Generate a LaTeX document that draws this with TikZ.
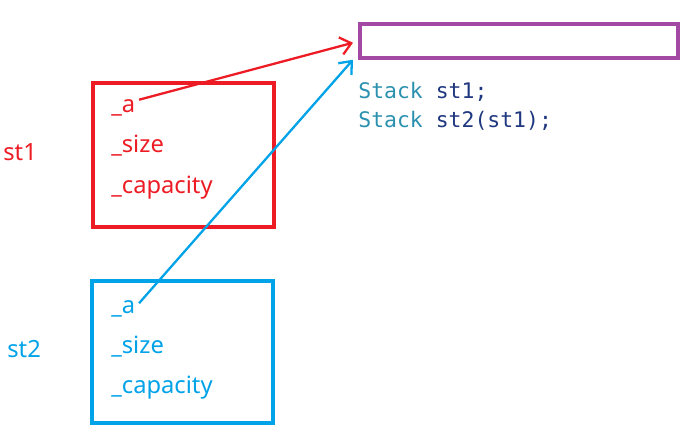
\documentclass[tikz,border=0pt]{standalone}
\usepackage{fontspec}
\setmainfont{Noto Sans}
\setmonofont{DejaVu Sans Mono}
\usetikzlibrary{arrows.meta}
\definecolor{pred}{RGB}{237,28,36}
\definecolor{pblue}{RGB}{0,162,232}
\definecolor{ppurple}{RGB}{163,73,164}
\definecolor{kwteal}{RGB}{43,145,175}
\definecolor{idnavy}{RGB}{31,55,127}
\tikzset{
	field/.style={anchor=base west, inner sep=0pt, font=\fontsize{13.5}{15}\selectfont},
	code/.style={anchor=base west, inner sep=0pt, font=\ttfamily\fontsize{12.2}{14}\selectfont},
	ptr/.style={line width=1.3pt, -{Straight Barb[length=6pt,width=10pt,line width=1.3pt]}}
}
\begin{document}
\begin{tikzpicture}[x=0.02cm,y=-0.02cm]
	\useasboundingbox (0,0) rectangle (695,432);
	% objects
	\draw[pred, line width=2pt] (93,83) rectangle (274,227);
	\draw[pblue, line width=2pt] (92,281) rectangle (273,423);
	\node[draw=ppurple, line width=2pt, minimum width=318*0.02cm, minimum height=34*0.02cm, inner sep=0pt] (buf) at (519,41) {};
	\node [field, text=pred] at (3,160) {st1};
	\node [field, text=pblue] at (7,357) {st2};
	\node [field, text=pred] (a1) at (111,113) {\_a};
	\node [field, text=pred] at (111,153) {\_size};
	\node [field, text=pred] at (111,193) {\_capacity};
	\node [field, text=pblue] (a2) at (111,313) {\_a};
	\node [field, text=pblue] at (111,353) {\_size};
	\node [field, text=pblue] at (111,393) {\_capacity};
	% code
	\node [code] at (358,99) {\textcolor{kwteal}{Stack} \textcolor{idnavy}{st1;}};
	\node [code] at (358,128) {\textcolor{kwteal}{Stack} \textcolor{idnavy}{st2(st1);}};
	% pointers
	\draw[ptr, pred] ([xshift=2pt]a1.north east) -- ([xshift=-3pt,yshift=-1pt]buf.west);
	\draw[ptr, pblue] ([xshift=2pt,yshift=-2pt]a2.north east) -- ([xshift=-3pt,yshift=0pt]buf.south west);
\end{tikzpicture}
\end{document}
